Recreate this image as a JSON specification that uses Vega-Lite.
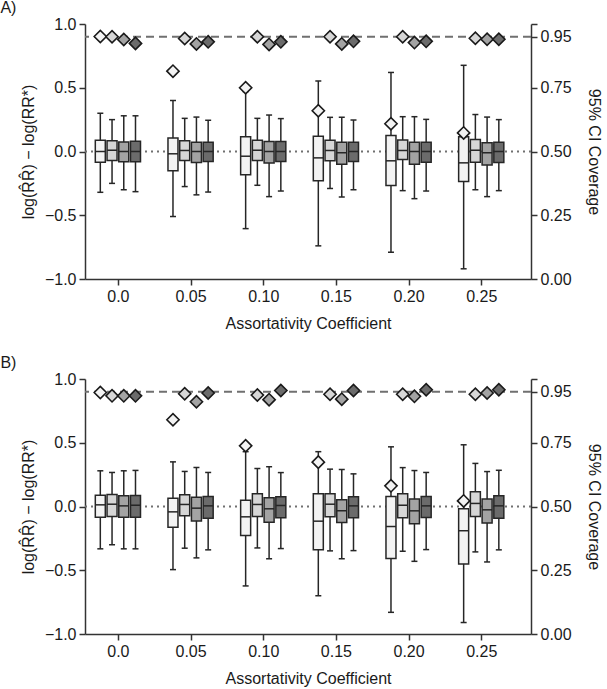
{
  "$schema": "https://vega.github.io/schema/vega-lite/v6.json",
  "padding": {"left": 0, "top": 0, "right": 0, "bottom": 2},
  "spacing": 24,
  "config": {
    "font": "Liberation Sans",
    "view": {"stroke": null},
    "axis": {"labelFontSize": 16, "titleFontSize": 16, "titleFontWeight": "normal", "labelColor": "#1a1a1a", "titleColor": "#1a1a1a", "domainColor": "#333333", "tickColor": "#333333", "domainWidth": 1.5, "tickWidth": 1.5, "tickSize": 6, "grid": false, "labelPadding": 3, "labelFlush": false},
    "title": {"fontSize": 16, "fontWeight": "normal", "anchor": "start", "frame": "bounds", "color": "#1a1a1a"}
  },
  "datasets": {
    "boxes": [
      {"panel": "A", "coef": 0.0, "method": 1, "lo": -0.32, "q1": -0.084, "med": 0.0, "q3": 0.089, "hi": 0.30},
      {"panel": "A", "coef": 0.0, "method": 2, "lo": -0.25, "q1": -0.07, "med": 0.01, "q3": 0.084, "hi": 0.25},
      {"panel": "A", "coef": 0.0, "method": 3, "lo": -0.30, "q1": -0.08, "med": 0.0, "q3": 0.075, "hi": 0.28},
      {"panel": "A", "coef": 0.0, "method": 4, "lo": -0.315, "q1": -0.08, "med": 0.0, "q3": 0.08, "hi": 0.28},
      {"panel": "A", "coef": 0.05, "method": 1, "lo": -0.51, "q1": -0.15, "med": -0.018, "q3": 0.105, "hi": 0.40},
      {"panel": "A", "coef": 0.05, "method": 2, "lo": -0.275, "q1": -0.07, "med": 0.008, "q3": 0.084, "hi": 0.26},
      {"panel": "A", "coef": 0.05, "method": 3, "lo": -0.34, "q1": -0.086, "med": 0.0, "q3": 0.073, "hi": 0.27},
      {"panel": "A", "coef": 0.05, "method": 4, "lo": -0.318, "q1": -0.078, "med": 0.0, "q3": 0.073, "hi": 0.245},
      {"panel": "A", "coef": 0.1, "method": 1, "lo": -0.605, "q1": -0.183, "med": -0.037, "q3": 0.115, "hi": 0.47},
      {"panel": "A", "coef": 0.1, "method": 2, "lo": -0.265, "q1": -0.07, "med": 0.01, "q3": 0.089, "hi": 0.26},
      {"panel": "A", "coef": 0.1, "method": 3, "lo": -0.354, "q1": -0.09, "med": 0.0, "q3": 0.078, "hi": 0.286},
      {"panel": "A", "coef": 0.1, "method": 4, "lo": -0.31, "q1": -0.078, "med": 0.0, "q3": 0.078, "hi": 0.258},
      {"panel": "A", "coef": 0.15, "method": 1, "lo": -0.74, "q1": -0.23, "med": -0.05, "q3": 0.12, "hi": 0.553},
      {"panel": "A", "coef": 0.15, "method": 2, "lo": -0.29, "q1": -0.073, "med": 0.008, "q3": 0.089, "hi": 0.268},
      {"panel": "A", "coef": 0.15, "method": 3, "lo": -0.357, "q1": -0.1, "med": -0.01, "q3": 0.073, "hi": 0.268},
      {"panel": "A", "coef": 0.15, "method": 4, "lo": -0.30, "q1": -0.078, "med": 0.0, "q3": 0.073, "hi": 0.247},
      {"panel": "A", "coef": 0.2, "method": 1, "lo": -0.79, "q1": -0.267, "med": -0.073, "q3": 0.125, "hi": 0.62},
      {"panel": "A", "coef": 0.2, "method": 2, "lo": -0.307, "q1": -0.063, "med": 0.008, "q3": 0.09, "hi": 0.273},
      {"panel": "A", "coef": 0.2, "method": 3, "lo": -0.37, "q1": -0.1, "med": 0.0, "q3": 0.073, "hi": 0.273},
      {"panel": "A", "coef": 0.2, "method": 4, "lo": -0.31, "q1": -0.084, "med": 0.0, "q3": 0.073, "hi": 0.252},
      {"panel": "A", "coef": 0.25, "method": 1, "lo": -0.92, "q1": -0.235, "med": -0.089, "q3": 0.115, "hi": 0.676},
      {"panel": "A", "coef": 0.25, "method": 2, "lo": -0.30, "q1": -0.084, "med": 0.01, "q3": 0.094, "hi": 0.29},
      {"panel": "A", "coef": 0.25, "method": 3, "lo": -0.354, "q1": -0.105, "med": -0.01, "q3": 0.068, "hi": 0.27},
      {"panel": "A", "coef": 0.25, "method": 4, "lo": -0.307, "q1": -0.086, "med": 0.0, "q3": 0.073, "hi": 0.25},
      {"panel": "B", "coef": 0.0, "method": 1, "lo": -0.332, "q1": -0.084, "med": 0.013, "q3": 0.089, "hi": 0.28},
      {"panel": "B", "coef": 0.0, "method": 2, "lo": -0.30, "q1": -0.079, "med": 0.018, "q3": 0.094, "hi": 0.267},
      {"panel": "B", "coef": 0.0, "method": 3, "lo": -0.332, "q1": -0.084, "med": 0.005, "q3": 0.084, "hi": 0.28},
      {"panel": "B", "coef": 0.0, "method": 4, "lo": -0.332, "q1": -0.084, "med": 0.01, "q3": 0.086, "hi": 0.283},
      {"panel": "B", "coef": 0.05, "method": 1, "lo": -0.495, "q1": -0.162, "med": -0.042, "q3": 0.065, "hi": 0.35},
      {"panel": "B", "coef": 0.05, "method": 2, "lo": -0.327, "q1": -0.073, "med": 0.016, "q3": 0.092, "hi": 0.275},
      {"panel": "B", "coef": 0.05, "method": 3, "lo": -0.403, "q1": -0.113, "med": -0.013, "q3": 0.073, "hi": 0.306},
      {"panel": "B", "coef": 0.05, "method": 4, "lo": -0.34, "q1": -0.092, "med": 0.005, "q3": 0.079, "hi": 0.267},
      {"panel": "B", "coef": 0.1, "method": 1, "lo": -0.623, "q1": -0.228, "med": -0.081, "q3": 0.05, "hi": 0.43},
      {"panel": "B", "coef": 0.1, "method": 2, "lo": -0.325, "q1": -0.079, "med": 0.016, "q3": 0.10, "hi": 0.298},
      {"panel": "B", "coef": 0.1, "method": 3, "lo": -0.41, "q1": -0.123, "med": -0.018, "q3": 0.068, "hi": 0.312},
      {"panel": "B", "coef": 0.1, "method": 4, "lo": -0.33, "q1": -0.089, "med": 0.008, "q3": 0.076, "hi": 0.266},
      {"panel": "B", "coef": 0.15, "method": 1, "lo": -0.70, "q1": -0.34, "med": -0.115, "q3": 0.10, "hi": 0.43},
      {"panel": "B", "coef": 0.15, "method": 2, "lo": -0.348, "q1": -0.081, "med": 0.018, "q3": 0.10, "hi": 0.293},
      {"panel": "B", "coef": 0.15, "method": 3, "lo": -0.41, "q1": -0.126, "med": -0.034, "q3": 0.052, "hi": 0.29},
      {"panel": "B", "coef": 0.15, "method": 4, "lo": -0.346, "q1": -0.089, "med": 0.005, "q3": 0.076, "hi": 0.256},
      {"panel": "B", "coef": 0.2, "method": 1, "lo": -0.83, "q1": -0.408, "med": -0.157, "q3": 0.079, "hi": 0.468},
      {"panel": "B", "coef": 0.2, "method": 2, "lo": -0.351, "q1": -0.089, "med": 0.01, "q3": 0.10, "hi": 0.305},
      {"panel": "B", "coef": 0.2, "method": 3, "lo": -0.43, "q1": -0.136, "med": -0.034, "q3": 0.058, "hi": 0.282},
      {"panel": "B", "coef": 0.2, "method": 4, "lo": -0.338, "q1": -0.086, "med": 0.005, "q3": 0.079, "hi": 0.267},
      {"panel": "B", "coef": 0.25, "method": 1, "lo": -0.91, "q1": -0.45, "med": -0.19, "q3": -0.018, "hi": 0.484},
      {"panel": "B", "coef": 0.25, "method": 2, "lo": -0.356, "q1": -0.079, "med": 0.024, "q3": 0.115, "hi": 0.338},
      {"panel": "B", "coef": 0.25, "method": 3, "lo": -0.435, "q1": -0.13, "med": -0.026, "q3": 0.058, "hi": 0.274},
      {"panel": "B", "coef": 0.25, "method": 4, "lo": -0.34, "q1": -0.092, "med": 0.005, "q3": 0.084, "hi": 0.284}
    ],
    "cov": [
      {"panel": "A", "coef": 0.0, "method": 1, "cov": 0.951},
      {"panel": "A", "coef": 0.0, "method": 2, "cov": 0.95},
      {"panel": "A", "coef": 0.0, "method": 3, "cov": 0.939},
      {"panel": "A", "coef": 0.0, "method": 4, "cov": 0.924},
      {"panel": "A", "coef": 0.05, "method": 1, "cov": 0.815},
      {"panel": "A", "coef": 0.05, "method": 2, "cov": 0.943},
      {"panel": "A", "coef": 0.05, "method": 3, "cov": 0.922},
      {"panel": "A", "coef": 0.05, "method": 4, "cov": 0.93},
      {"panel": "A", "coef": 0.1, "method": 1, "cov": 0.75},
      {"panel": "A", "coef": 0.1, "method": 2, "cov": 0.95},
      {"panel": "A", "coef": 0.1, "method": 3, "cov": 0.92},
      {"panel": "A", "coef": 0.1, "method": 4, "cov": 0.93},
      {"panel": "A", "coef": 0.15, "method": 1, "cov": 0.66},
      {"panel": "A", "coef": 0.15, "method": 2, "cov": 0.95},
      {"panel": "A", "coef": 0.15, "method": 3, "cov": 0.922},
      {"panel": "A", "coef": 0.15, "method": 4, "cov": 0.932},
      {"panel": "A", "coef": 0.2, "method": 1, "cov": 0.609},
      {"panel": "A", "coef": 0.2, "method": 2, "cov": 0.95},
      {"panel": "A", "coef": 0.2, "method": 3, "cov": 0.927},
      {"panel": "A", "coef": 0.2, "method": 4, "cov": 0.932},
      {"panel": "A", "coef": 0.25, "method": 1, "cov": 0.573},
      {"panel": "A", "coef": 0.25, "method": 2, "cov": 0.944},
      {"panel": "A", "coef": 0.25, "method": 3, "cov": 0.94},
      {"panel": "A", "coef": 0.25, "method": 4, "cov": 0.94},
      {"panel": "B", "coef": 0.0, "method": 1, "cov": 0.947},
      {"panel": "B", "coef": 0.0, "method": 2, "cov": 0.934},
      {"panel": "B", "coef": 0.0, "method": 3, "cov": 0.934},
      {"panel": "B", "coef": 0.0, "method": 4, "cov": 0.934},
      {"panel": "B", "coef": 0.05, "method": 1, "cov": 0.84},
      {"panel": "B", "coef": 0.05, "method": 2, "cov": 0.942},
      {"panel": "B", "coef": 0.05, "method": 3, "cov": 0.911},
      {"panel": "B", "coef": 0.05, "method": 4, "cov": 0.945},
      {"panel": "B", "coef": 0.1, "method": 1, "cov": 0.738},
      {"panel": "B", "coef": 0.1, "method": 2, "cov": 0.937},
      {"panel": "B", "coef": 0.1, "method": 3, "cov": 0.919},
      {"panel": "B", "coef": 0.1, "method": 4, "cov": 0.955},
      {"panel": "B", "coef": 0.15, "method": 1, "cov": 0.674},
      {"panel": "B", "coef": 0.15, "method": 2, "cov": 0.94},
      {"panel": "B", "coef": 0.15, "method": 3, "cov": 0.921},
      {"panel": "B", "coef": 0.15, "method": 4, "cov": 0.955},
      {"panel": "B", "coef": 0.2, "method": 1, "cov": 0.581},
      {"panel": "B", "coef": 0.2, "method": 2, "cov": 0.94},
      {"panel": "B", "coef": 0.2, "method": 3, "cov": 0.932},
      {"panel": "B", "coef": 0.2, "method": 4, "cov": 0.958},
      {"panel": "B", "coef": 0.25, "method": 1, "cov": 0.522},
      {"panel": "B", "coef": 0.25, "method": 2, "cov": 0.94},
      {"panel": "B", "coef": 0.25, "method": 3, "cov": 0.945},
      {"panel": "B", "coef": 0.25, "method": 4, "cov": 0.958}
    ]
  },
  "vconcat": [
    {
      "title": {"text": "A)", "dx": -20, "offset": 0},
      "width": 446,
      "height": 255,
      "layer": [
        {
          "data": {"name": "boxes"},
          "transform": [{"filter": "datum.panel == 'A'"}, {"calculate": "datum.coef + (datum.method - 2.5) * 0.00807", "as": "xpos"}],
          "layer": [
            {
              "data": {"values": [{}]},
              "mark": {"type": "rule", "strokeDash": [2, 4], "strokeWidth": 2, "color": "#707070"},
              "encoding": {"y": {"datum": 0, "type": "quantitative", "scale": {"domain": [-1, 1], "nice": false}}}
            },
            {
              "mark": {"type": "rule", "color": "#262626", "strokeWidth": 1.5},
              "encoding": {
                "x": {"field": "xpos", "type": "quantitative", "scale": {"domain": [-0.0192, 0.2808], "nice": false, "zero": false}, "axis": {"values": [0, 0.05, 0.1, 0.15, 0.2, 0.25], "labelExpr": "datum.value == 0 ? '0.0' : format(datum.value, '.2f')", "title": "Assortativity Coefficient", "titlePadding": 11}},
                "y": {"field": "lo", "type": "quantitative", "scale": {"domain": [-1, 1], "nice": false}, "axis": {"values": [-1, -0.5, 0, 0.5, 1], "format": ".1f", "title": "log(R̂R̂) − log(RR*)", "titlePadding": 8}},
                "y2": {"field": "hi"}
              }
            },
            {
              "mark": {"type": "bar", "size": 10, "stroke": "#262626", "strokeWidth": 1.5},
              "encoding": {
                "x": {"field": "xpos", "type": "quantitative"},
                "y": {"field": "q1", "type": "quantitative"},
                "y2": {"field": "q3"},
                "fill": {"field": "method", "type": "nominal", "scale": {"domain": [1, 2, 3, 4], "range": ["#f3f3f3", "#d6d6d6", "#a3a3a3", "#6b6b6b"]}, "legend": null}
              }
            },
            {
              "mark": {"type": "tick", "orient": "horizontal", "size": 10, "thickness": 1.5, "color": "#262626", "opacity": 1},
              "encoding": {
                "x": {"field": "xpos", "type": "quantitative"},
                "y": {"field": "med", "type": "quantitative"}
              }
            },
            {
              "mark": {"type": "tick", "orient": "horizontal", "size": 6, "thickness": 1.5, "color": "#262626", "opacity": 1},
              "encoding": {
                "x": {"field": "xpos", "type": "quantitative"},
                "y": {"field": "lo", "type": "quantitative"}
              }
            },
            {
              "mark": {"type": "tick", "orient": "horizontal", "size": 6, "thickness": 1.5, "color": "#262626", "opacity": 1},
              "encoding": {
                "x": {"field": "xpos", "type": "quantitative"},
                "y": {"field": "hi", "type": "quantitative"}
              }
            }
          ]
        },
        {
          "data": {"name": "cov"},
          "transform": [{"filter": "datum.panel == 'A'"}, {"calculate": "datum.coef + (datum.method - 2.5) * 0.00807", "as": "xpos"}],
          "layer": [
            {
              "data": {"values": [{}]},
              "mark": {"type": "rule", "strokeDash": [8, 5], "strokeWidth": 2, "color": "#707070"},
              "encoding": {"y": {"datum": 0.95, "type": "quantitative", "scale": {"domain": [0, 1], "nice": false}}}
            },
            {
              "mark": {"type": "point", "shape": "diamond", "filled": true, "size": 150, "stroke": "#1a1a1a", "strokeWidth": 1.6, "opacity": 1},
              "encoding": {
                "x": {"field": "xpos", "type": "quantitative"},
                "y": {"field": "cov", "type": "quantitative", "scale": {"domain": [0, 1], "nice": false}, "axis": {"orient": "right", "values": [0, 0.25, 0.5, 0.75, 0.95, 1], "labelExpr": "datum.value == 1 ? '' : format(datum.value, '.2f')", "title": "95% CI Coverage", "titlePadding": 14}},
                "fill": {"field": "method", "type": "nominal", "legend": null}
              }
            }
          ]
        }
      ],
      "resolve": {"scale": {"y": "independent"}, "axis": {"y": "independent"}}
    },
    {
      "title": {"text": "B)", "dx": -20, "offset": 0},
      "width": 446,
      "height": 255,
      "layer": [
        {
          "data": {"name": "boxes"},
          "transform": [{"filter": "datum.panel == 'B'"}, {"calculate": "datum.coef + (datum.method - 2.5) * 0.00807", "as": "xpos"}],
          "layer": [
            {
              "data": {"values": [{}]},
              "mark": {"type": "rule", "strokeDash": [2, 4], "strokeWidth": 2, "color": "#707070"},
              "encoding": {"y": {"datum": 0, "type": "quantitative", "scale": {"domain": [-1, 1], "nice": false}}}
            },
            {
              "mark": {"type": "rule", "color": "#262626", "strokeWidth": 1.5},
              "encoding": {
                "x": {"field": "xpos", "type": "quantitative", "scale": {"domain": [-0.0192, 0.2808], "nice": false, "zero": false}, "axis": {"values": [0, 0.05, 0.1, 0.15, 0.2, 0.25], "labelExpr": "datum.value == 0 ? '0.0' : format(datum.value, '.2f')", "title": "Assortativity Coefficient", "titlePadding": 11}},
                "y": {"field": "lo", "type": "quantitative", "scale": {"domain": [-1, 1], "nice": false}, "axis": {"values": [-1, -0.5, 0, 0.5, 1], "format": ".1f", "title": "log(R̂R̂) − log(RR*)", "titlePadding": 8}},
                "y2": {"field": "hi"}
              }
            },
            {
              "mark": {"type": "bar", "size": 10, "stroke": "#262626", "strokeWidth": 1.5},
              "encoding": {
                "x": {"field": "xpos", "type": "quantitative"},
                "y": {"field": "q1", "type": "quantitative"},
                "y2": {"field": "q3"},
                "fill": {"field": "method", "type": "nominal", "scale": {"domain": [1, 2, 3, 4], "range": ["#f3f3f3", "#d6d6d6", "#a3a3a3", "#6b6b6b"]}, "legend": null}
              }
            },
            {
              "mark": {"type": "tick", "orient": "horizontal", "size": 10, "thickness": 1.5, "color": "#262626", "opacity": 1},
              "encoding": {
                "x": {"field": "xpos", "type": "quantitative"},
                "y": {"field": "med", "type": "quantitative"}
              }
            },
            {
              "mark": {"type": "tick", "orient": "horizontal", "size": 6, "thickness": 1.5, "color": "#262626", "opacity": 1},
              "encoding": {
                "x": {"field": "xpos", "type": "quantitative"},
                "y": {"field": "lo", "type": "quantitative"}
              }
            },
            {
              "mark": {"type": "tick", "orient": "horizontal", "size": 6, "thickness": 1.5, "color": "#262626", "opacity": 1},
              "encoding": {
                "x": {"field": "xpos", "type": "quantitative"},
                "y": {"field": "hi", "type": "quantitative"}
              }
            }
          ]
        },
        {
          "data": {"name": "cov"},
          "transform": [{"filter": "datum.panel == 'B'"}, {"calculate": "datum.coef + (datum.method - 2.5) * 0.00807", "as": "xpos"}],
          "layer": [
            {
              "data": {"values": [{}]},
              "mark": {"type": "rule", "strokeDash": [8, 5], "strokeWidth": 2, "color": "#707070"},
              "encoding": {"y": {"datum": 0.95, "type": "quantitative", "scale": {"domain": [0, 1], "nice": false}}}
            },
            {
              "mark": {"type": "point", "shape": "diamond", "filled": true, "size": 150, "stroke": "#1a1a1a", "strokeWidth": 1.6, "opacity": 1},
              "encoding": {
                "x": {"field": "xpos", "type": "quantitative"},
                "y": {"field": "cov", "type": "quantitative", "scale": {"domain": [0, 1], "nice": false}, "axis": {"orient": "right", "values": [0, 0.25, 0.5, 0.75, 0.95, 1], "labelExpr": "datum.value == 1 ? '' : format(datum.value, '.2f')", "title": "95% CI Coverage", "titlePadding": 14}},
                "fill": {"field": "method", "type": "nominal", "legend": null}
              }
            }
          ]
        }
      ],
      "resolve": {"scale": {"y": "independent"}, "axis": {"y": "independent"}}
    }
  ]
}
